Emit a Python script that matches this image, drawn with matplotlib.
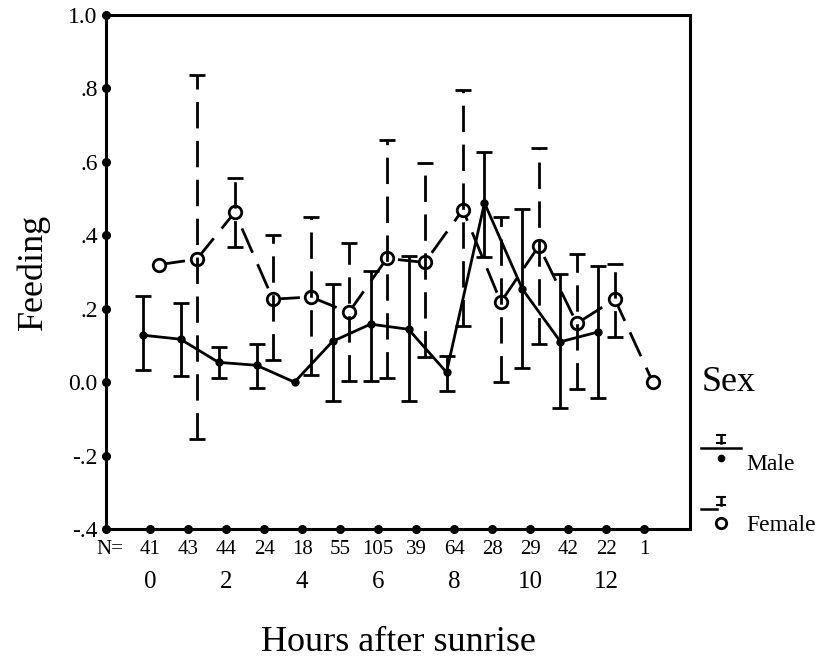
import numpy as np
import matplotlib.pyplot as plt
import matplotlib.transforms as mtransforms
from matplotlib.legend_handler import HandlerBase
from matplotlib.lines import Line2D

plt.rcParams['font.family'] = ['Liberation Serif', 'DejaVu Serif']

# data
hours = np.arange(14)
n_counts = [41, 43, 44, 24, 18, 55, 105, 39, 64, 28, 29, 42, 22, 1]
hour_labels = ['0', '', '2', '', '4', '', '6', '', '8', '', '10', '', '12', '']

nan = np.nan
male_mean = [0.128, 0.117, 0.054, 0.046, 0.0, 0.111, 0.158, 0.144, 0.027, 0.488, 0.253, 0.110, 0.137, nan]
male_lo = [0.033, 0.017, 0.011, -0.017, nan, -0.051, 0.003, -0.051, -0.024, 0.340, 0.038, -0.071, -0.044, nan]
male_hi = [0.235, 0.215, 0.095, 0.104, nan, 0.267, 0.303, 0.344, 0.072, 0.627, 0.471, 0.294, 0.317, nan]

female_mean = [0.320, 0.335, 0.463, 0.226, 0.232, 0.190, 0.337, 0.326, 0.470, 0.218, 0.371, 0.160, 0.226, 0.0]
female_lo = [nan, -0.155, 0.367, 0.060, 0.019, 0.003, 0.010, 0.068, 0.152, 0.0, 0.104, -0.020, 0.122, nan]
female_hi = [nan, 0.837, 0.556, 0.400, 0.450, 0.378, 0.660, 0.597, 0.796, 0.450, 0.638, 0.349, 0.322, nan]

ytick_vals = [-0.4, -0.2, 0.0, 0.2, 0.4, 0.6, 0.8, 1.0]
ytick_labels = ['-.4', '-.2', '0.0', '.2', '.4', '.6', '.8', '1.0']

DASH = (0, (9.5, 4.5))
LW = 2.0


def draw_errbars(ax, x, mean, lo, hi, dashed):
    mean = np.array(mean, dtype=float)
    lo = np.array(lo, dtype=float)
    hi = np.array(hi, dtype=float)
    ok = np.isfinite(lo)
    yerr = [mean[ok] - lo[ok], hi[ok] - mean[ok]]
    eb = ax.errorbar(x[ok], mean[ok], yerr=yerr, fmt='none', ecolor='black',
                     elinewidth=LW, capsize=5.5, capthick=LW, zorder=4)
    if dashed:
        eb[2][0].set_linestyle(DASH)


class ErrIcon(HandlerBase):
    # little SPSS style key: line, I-bar above, marker below
    def __init__(self, filled):
        super().__init__()
        self.filled = filled

    def create_artists(self, legend, orig_handle, xdescent, ydescent,
                       width, height, fontsize, trans):
        xc = width / 2 - xdescent
        yc = height / 2 - ydescent
        yl = yc + 10
        if self.filled:
            x1 = width - xdescent
            ym = yc + 2.5
        else:
            x1 = xc - 3
            ym = yc
        arts = [Line2D([-xdescent, x1], [yl, yl], color='black', lw=1.8)]
        arts.append(Line2D([xc, xc], [yl + 3, yl + 9], color='black', lw=1.8))
        arts.append(Line2D([xc - 3, xc + 3], [yl + 3, yl + 3], color='black', lw=1.5))
        arts.append(Line2D([xc - 3, xc + 3], [yl + 9, yl + 9], color='black', lw=1.5))
        if self.filled:
            m = Line2D([xc], [ym], marker='o', ms=4.5, color='black', ls='none')
        else:
            m = Line2D([xc], [ym], marker='o', ms=7.5, mfc='white', mec='black',
                       mew=2, ls='none')
        arts.append(m)
        for a in arts:
            a.set_transform(trans)
        return arts


fig = plt.figure(figsize=(8.22, 6.62), dpi=100)
ax = fig.add_axes([0.129, 0.2009, 0.7105, 0.7764])

xm = hours - 0.2
xf = hours + 0.23

# female: dashed line, open circles, dashed bars
ax.plot(xf, female_mean, color='black', lw=LW, ls=DASH, zorder=2)
ax.plot(xf, female_mean, 'o', ms=9, mfc='white', mec='black', mew=2, zorder=3)
draw_errbars(ax, xf, female_mean, female_lo, female_hi, dashed=True)

# male: solid line, filled dots
ax.plot(xm, male_mean, color='black', lw=LW, marker='o', ms=5, zorder=3)
draw_errbars(ax, xm, male_mean, male_lo, male_hi, dashed=False)

ax.set_xlim(-1.16, 14.21)
ax.set_ylim(-0.4, 1.0)
for s in ax.spines.values():
    s.set_linewidth(2.2)

ax.set_yticks(ytick_vals, labels=ytick_labels, fontsize=17)
ax.set_xticks(hours, labels=hour_labels, fontsize=18)
ax.tick_params(axis='y', length=0, pad=6)
ax.tick_params(axis='x', length=0, pad=30)

# round tick marks
tx = mtransforms.blended_transform_factory(ax.transData, ax.transAxes)
ty = mtransforms.blended_transform_factory(ax.transAxes, ax.transData)
ax.plot(hours, np.zeros(len(hours)), 'o', ms=5.5, color='black', transform=tx, clip_on=False, zorder=5)
ax.plot(np.zeros(len(ytick_vals)), ytick_vals, 'o', ms=5.5, color='black', transform=ty, clip_on=False, zorder=5)

# N row
ax.text(-0.7, -0.039, 'N=', transform=tx, ha='right', va='center', fontsize=15)
for h, n in zip(hours, n_counts):
    ax.text(h, -0.039, str(n), transform=tx, ha='center', va='center', fontsize=15)

ax.set_xlabel('Hours after sunrise', fontsize=26, labelpad=24)
ax.set_ylabel('Feeding', fontsize=26, labelpad=13)

h_m = Line2D([], [])
h_f = Line2D([], [])
leg = fig.legend([h_m, h_f], ['Male', 'Female'], title='Sex',
                 handler_map={h_m: ErrIcon(True), h_f: ErrIcon(False)},
                 loc='upper left', bbox_to_anchor=(0.853, 0.447),
                 frameon=False, fontsize=17, title_fontsize=26,
                 alignment='left', handlelength=1.7, handletextpad=0.2,
                 labelspacing=1.7, borderpad=0, borderaxespad=0)
leg._legend_box.sep = 39

fig.savefig('out.png', dpi=100)
